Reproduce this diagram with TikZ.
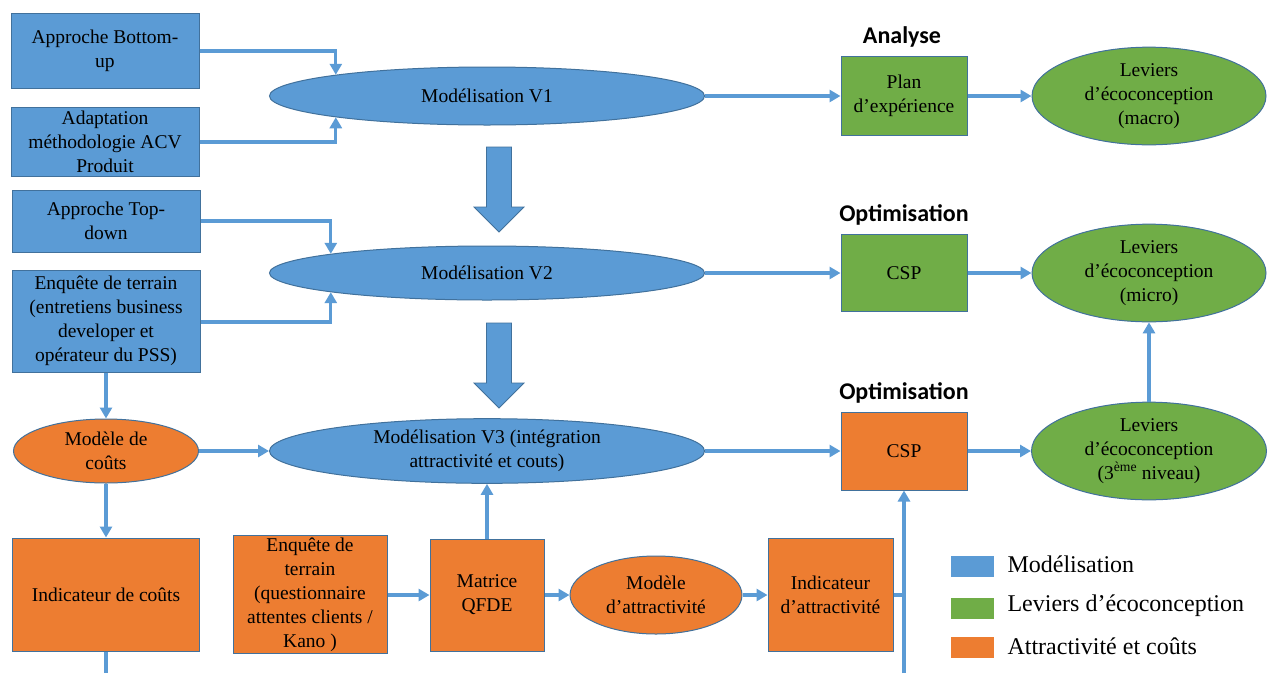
\documentclass[tikz,border=0pt]{standalone}
\usepackage{fontspec}
\setmainfont{Liberation Serif}
\newfontfamily\titlefont{Carlito}
\usetikzlibrary{arrows.meta,shapes.geometric}
\definecolor{cblue}{HTML}{5B9BD5}
\definecolor{cgreen}{HTML}{70AD47}
\definecolor{corange}{HTML}{ED7D31}
\definecolor{cborder}{HTML}{41719C}
\tikzset{
  base/.style={draw=cborder, line width=1pt, inner sep=2pt, align=center,
    font=\fontsize{19.5}{24}\selectfont, text=black},
  bluebox/.style={base, rectangle, fill=cblue},
  greenbox/.style={base, rectangle, fill=cgreen},
  orangebox/.style={base, rectangle, fill=corange},
  blueell/.style={base, ellipse, fill=cblue},
  greenell/.style={base, ellipse, fill=cgreen},
  orangeell/.style={base, ellipse, fill=corange},
  conn/.style={draw=cblue, line width=3.2pt, -{Triangle[length=11pt,width=12pt]}},
  plainconn/.style={draw=cblue, line width=3.2pt},
  blockarrow/.style={fill=cblue, draw=cborder, line width=0.8pt},
  title/.style={font=\titlefont\bfseries\fontsize{24}{26}\selectfont},
  legendsq/.style={fill=#1, minimum width=43pt, minimum height=21pt, inner sep=0pt},
  legendtxt/.style={anchor=west, font=\fontsize{24}{26}\selectfont},
}
\begin{document}
\begin{tikzpicture}[x=1pt,y=-1pt]
\useasboundingbox (0,0) rectangle (1269,673);
\fill[white] (0,0) rectangle (1269,673);

% left blue boxes
\node[bluebox, minimum width=188pt, minimum height=75pt] (bu) at (105,50.5) {Approche Bottom-\\up};
\node[bluebox, minimum width=188pt, minimum height=69pt] (acv) at (105,141.5) {Adaptation\\méthodologie ACV\\Produit};
\node[bluebox, minimum width=188pt, minimum height=62pt] (td) at (106,221) {Approche Top-\\down};
\node[bluebox, minimum width=188pt, minimum height=102pt] (enqa) at (106,321) {Enquête de terrain\\(entretiens business\\developer et\\opérateur du PSS)};

% modelisation ellipses
\node[blueell, minimum width=435pt, minimum height=58pt] (v1) at (487,96) {Modélisation V1};
\node[blueell, minimum width=435pt, minimum height=54pt] (v2) at (487,273) {Modélisation V2};
\node[blueell, minimum width=435pt, minimum height=56pt] (v3) at (487,451) {Modélisation V3 (intégration\\attractivité et couts)};

% block arrows
\draw[blockarrow] (486.5,147) -- (511.5,147) -- (511.5,207) -- (524,207) -- (499,232) -- (474,207) -- (486.5,207) -- cycle;
\draw[blockarrow] (486.5,323) -- (511.5,323) -- (511.5,383) -- (524,383) -- (499,408) -- (474,383) -- (486.5,383) -- cycle;

% titles
\node[title] (tana) at (902,37) {Analyse};
\node[title] (topt1) at (904,215) {Optimisation};
\node[title] (topt2) at (904,393) {Optimisation};

% right column
\node[greenbox, minimum width=126pt, minimum height=79pt] (plan) at (904,96) {Plan\\d’expérience};
\node[greenbox, minimum width=126pt, minimum height=77pt] (cspa) at (904,273) {CSP};
\node[orangebox, minimum width=126pt, minimum height=78pt] (cspb) at (904,451) {CSP};
\node[greenell, minimum width=234pt, minimum height=87pt] (leva) at (1149,96) {Leviers\\d’écoconception\\(macro)};
\node[greenell, minimum width=234pt, minimum height=86pt] (levb) at (1149,273) {Leviers\\d’écoconception\\(micro)};
\node[greenell, minimum width=235pt, minimum height=88pt] (levc) at (1149,451) {Leviers\\d’écoconception\\(3\textsuperscript{ème} niveau)};

% orange lower
\node[orangeell, minimum width=185pt, minimum height=64pt] (mc) at (106,451) {Modèle de\\coûts};
\node[orangebox, minimum width=187pt, minimum height=113pt] (ic) at (106,594.5) {Indicateur de coûts};
\node[orangebox, minimum width=154pt, minimum height=113pt] (enqb) at (310,594.5) {Enquête de\\terrain\\(questionnaire\\attentes clients /\\Kano )};
\node[orangebox, minimum width=114pt, minimum height=112pt] (mat) at (487,595) {Matrice\\QFDE};
\node[orangeell, minimum width=172pt, minimum height=78pt] (ma) at (656,595) {Modèle\\d’attractivité};
\node[orangebox, minimum width=125pt, minimum height=113pt] (ia) at (830.5,594.5) {Indicateur\\d’attractivité};

% helper coordinates
\coordinate (icend) at (106,673);
\coordinate (vbot) at (904,673);
\coordinate (vjoin) at (904,595);

% connectors
\draw[conn] (bu.east |- 0,51) -| (v1.172);
\draw[conn] (acv.east |- 0,142) -| (v1.188);
\draw[conn] (td.east |- 0,221) -| (v2.173);
\draw[conn] (enqa.east |- 0,322) -| (v2.187);
\draw[conn] (v1.east) -- (plan.west);
\draw[conn] (v2.east) -- (cspa.west);
\draw[conn] (v3.east) -- (cspb.west);
\draw[conn] (plan.east) -- (leva.west);
\draw[conn] (cspa.east) -- (levb.west);
\draw[conn] (cspb.east) -- (levc.west);
\draw[conn] (levc.north) -- (levb.south);
\draw[conn] (enqa.south) -- (mc.north);
\draw[conn] (mc.east) -- (v3.west);
\draw[conn] (mc.south) -- (ic.north);
\draw[plainconn] (ic.south) -- (icend);
\draw[conn] (enqb.east |- 0,595) -- (mat.west |- 0,595);
\draw[conn] (mat.north) -- (v3.south);
\draw[conn] (mat.east) -- (ma.west);
\draw[conn] (ma.east) -- (ia.west |- ma.east);
\draw[plainconn] (ia.east |- vjoin) -- (vjoin);
\draw[conn] (vbot) -- (cspb.south);

% legend
\node[legendsq=cblue] (lga) at (972.5,566.5) {};
\node[legendsq=cgreen] (lgb) at (972.5,608.5) {};
\node[legendsq=corange] (lgc) at (972.5,647.5) {};
\node[legendtxt] (lta) at (1004,564) {Modélisation};
\node[legendtxt] (ltb) at (1004,606) {Leviers d’écoconception};
\node[legendtxt] (ltc) at (1004,646) {Attractivité et coûts};
\end{tikzpicture}
\end{document}
